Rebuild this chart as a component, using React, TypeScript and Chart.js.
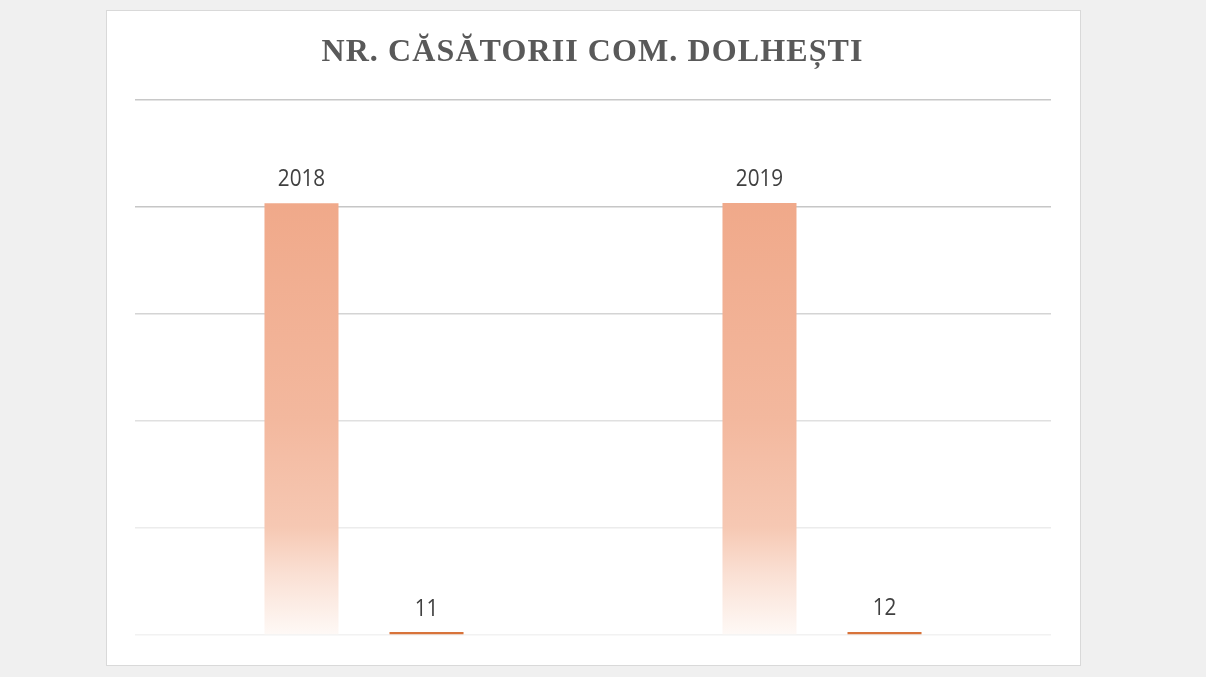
import React, { useEffect, useRef } from "react";
import { Chart, registerables } from "chart.js";

Chart.register(...registerables);

const categories = ["2018", "2019"];
const yearValues = [2018, 2019];
const marriageCounts = [11, 12];
const yMin = 0;
const yMax = 2500;
const yStep = 500;
const chartTitle = "NR. CĂSĂTORII COM. DOLHEȘTI";
const gridColors = ["#f2f2f2", "#ececec", "#e0e0e0", "#d4d4d4", "#c6c6c6", "#c8c8c8"];

const titlePlugin = {
  id: "excelTitle",
  afterDraw(chart: any) {
    const ctx = chart.ctx;
    ctx.save();
    ctx.font = 'bold 32px "Liberation Serif", "Times New Roman", serif';
    (ctx as any).letterSpacing = "1.1px";
    ctx.fillStyle = "#595959";
    ctx.textAlign = "center";
    ctx.textBaseline = "alphabetic";
    ctx.fillText(chartTitle, chart.width / 2 - 1, 50);
    ctx.restore();
  },
};

const labelPlugin = {
  id: "barLabels",
  afterDatasetsDraw(chart: any) {
    const ctx = chart.ctx;
    chart.data.datasets.forEach((ds: any, di: number) => {
      const meta = chart.getDatasetMeta(di);
      meta.data.forEach((el: any, i: number) => {
        const v = ds.data[i];
        const base = chart.scales.y.getPixelForValue(v);
        ctx.save();
        ctx.translate(el.x, base - 17);
        ctx.scale(0.9, 1);
        ctx.font = '23px "Open Sans", "Noto Sans", sans-serif';
        ctx.fillStyle = "#404040";
        ctx.textAlign = "center";
        ctx.textBaseline = "alphabetic";
        ctx.fillText(String(v), 0, 0);
        ctx.restore();
      });
    });
  },
};

function yearFill(context: any) {
  const chart = context.chart;
  const area = chart.chartArea;
  if (!area) return "#f0a98a";
  const yScale = chart.scales.y;
  const top = yScale.getPixelForValue(context.raw ?? yMax);
  const bottom = yScale.getPixelForValue(0);
  const g = chart.ctx.createLinearGradient(0, top, 0, bottom);
  g.addColorStop(0, "#f0a98a");
  g.addColorStop(0.5, "#f3b89e");
  g.addColorStop(0.75, "#f6c8b3");
  g.addColorStop(0.86, "#fae0d4");
  g.addColorStop(1, "#fef9f6");
  return g;
}

export default function App() {
  const ref = useRef<HTMLCanvasElement | null>(null);

  useEffect(() => {
    if (!ref.current) return;
    const chart = new Chart(ref.current, {
      type: "bar",
      data: {
        labels: categories,
        datasets: [
          {
            label: "An",
            data: yearValues,
            backgroundColor: yearFill as any,
            borderWidth: 0,
          },
          {
            label: "Nr. căsătorii",
            data: marriageCounts,
            backgroundColor: "#d8733a",
            borderWidth: 0,
            minBarLength: 3,
          },
        ],
      },
      options: {
        responsive: false,
        animation: false,
        devicePixelRatio: 1,
        layout: { padding: { top: 89, left: 28, right: 29, bottom: 30 } },
        datasets: {
          bar: { categoryPercentage: 0.546, barPercentage: 0.592 },
        } as any,
        plugins: {
          legend: { display: false },
          title: { display: false },
          tooltip: { enabled: false },
        },
        scales: {
          x: { display: false },
          y: {
            min: yMin,
            max: yMax,
            ticks: { display: false, stepSize: yStep },
            border: { display: false },
            grid: {
              drawTicks: false,
              lineWidth: 1.5,
              color: (ctx: any) => gridColors[ctx.index] ?? "#d9d9d9",
            },
          },
        },
      },
      plugins: [titlePlugin, labelPlugin],
    });
    return () => chart.destroy();
  }, []);

  return (
    <div style={{ position: "fixed", left: 0, top: 0, width: 1206, height: 677, background: "#f0f0f0" }}>
      <div
        style={{
          position: "absolute",
          left: 106,
          top: 10,
          width: 973,
          height: 654,
          border: "1px solid #d9d9d9",
          background: "#ffffff",
        }}
      >
        <canvas ref={ref} width={973} height={654} style={{ display: "block", width: 973, height: 654 }} />
      </div>
    </div>
  );
}
